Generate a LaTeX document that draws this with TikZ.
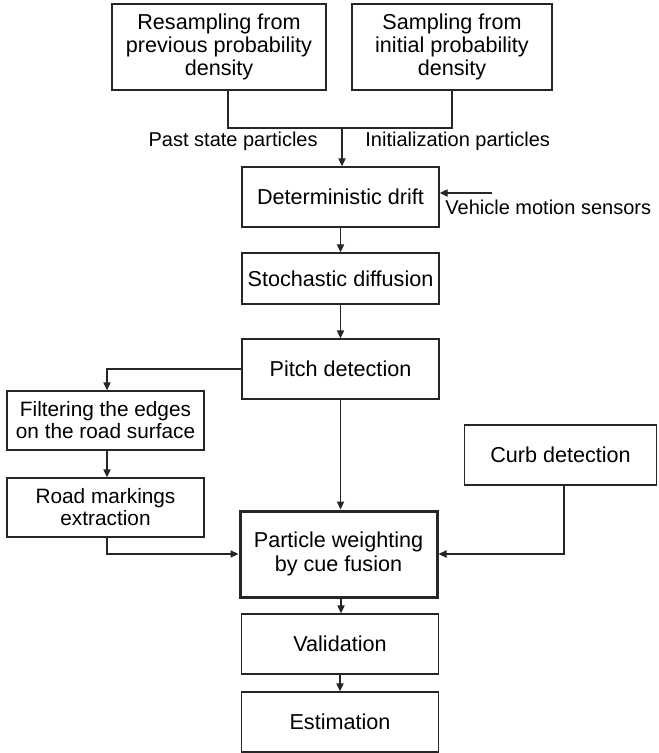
\documentclass[tikz,border=0pt]{standalone}
\usepackage{fontspec}
\setmainfont{Liberation Sans}
\usetikzlibrary{arrows.meta}

\begin{document}
\begin{tikzpicture}[x=0.5pt,y=-0.5pt,
    box/.style={draw=black!85,line width=0.65pt,align=center,inner sep=0pt,
      minimum width=98.5pt,minimum height=30pt,font=\fontsize{10.8}{11.6}\selectfont},
    flow/.style={draw=black!85,line width=0.65pt,-{Triangle[length=4pt,width=3.6pt]}},
    lbl/.style={inner sep=0pt,font=\fontsize{10}{11}\selectfont}]
      \useasboundingbox (0,0) rectangle (658,753);
      % particle sources
      \node[box,minimum width=107pt,minimum height=43pt] (resamp) at (219,47) {Resampling from\\previous probability\\density};
      \node[box,minimum width=100pt,minimum height=43pt] (initsamp) at (452,47) {Sampling from\\initial probability\\density};
      \coordinate (join) at (342,128);
      \node[lbl,anchor=base east] (pastlbl) at (318,147) {Past state particles};
      \node[lbl,anchor=base west] (initlbl) at (365,147) {Initialization particles};
      % main chain
      \node[box] (drift) at (340.5,197) {Deterministic drift};
      \node[box,minimum height=25.5pt] (diffusion) at (340.5,278.5) {Stochastic diffusion};
      \node[box] (pitch) at (340.5,369) {Pitch detection};
      \node[box,line width=1.5pt,minimum height=43pt] (weighting) at (338.5,554) {Particle weighting\\by cue fusion};
      \node[box] (valid) at (340,644) {Validation};
      \node[box] (estim) at (340,722) {Estimation};
      % side cues
      \coordinate (sensors) at (492,193);
      \node[lbl,anchor=base west] (sensorslbl) at (445,215) {Vehicle motion sensors};
      \node[box,minimum height=29.5pt,font=\fontsize{10.4}{11}\selectfont] (filter) at (105.5,420.5) {Filtering the edges\\on the road surface};
      \node[box,minimum height=29.5pt,font=\fontsize{10.4}{11}\selectfont] (markings) at (105.5,507.5) {Road markings\\extraction};
      \node[box,minimum width=96pt] (curb) at (560.5,455) {Curb detection};
      % connections
      \draw[draw=black!85,line width=0.65pt] ([xshift=4.5pt]resamp.south) |- (join) -| (initsamp.south);
      \draw[flow] (join) -- (join |- drift.north);
      \draw[flow] (sensors) -- (sensors -| drift.east);
      \draw[flow] (drift) -- (diffusion);
      \draw[flow] (diffusion) -- (pitch);
      \draw[flow] (pitch.west) -| ([xshift=0.75pt]filter.north);
      \draw[flow] ([xshift=0.75pt]filter.south) -- ([xshift=0.75pt]markings.north);
      \draw[flow] ([xshift=0.75pt]markings.south) |- (weighting.west);
      \draw[flow] (pitch.south) -- (pitch.south |- weighting.north);
      \draw[flow] ([xshift=1.75pt]curb.south) |- (weighting.east);
      \draw[flow] ([xshift=1.25pt]weighting.south) -- ([xshift=1.25pt]weighting.south |- valid.north);
      \draw[flow] (valid) -- (estim);
\end{tikzpicture}
\end{document}
